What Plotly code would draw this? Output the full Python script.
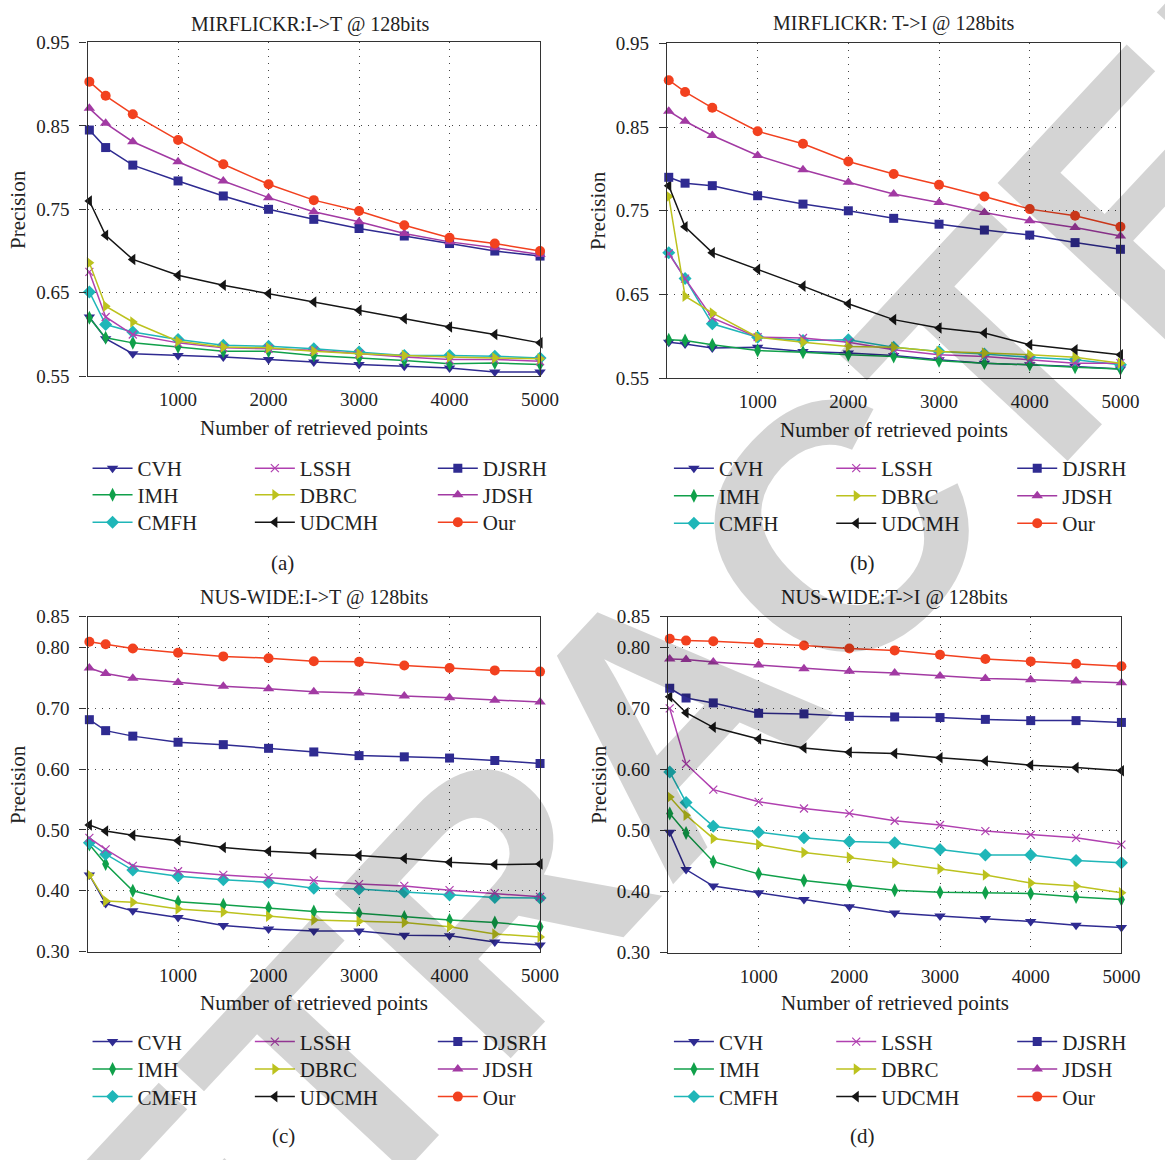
import plotly.graph_objects as go

# ---------------- data ----------------
x_points = [20, 200, 500, 1000, 1500, 2000, 2500, 3000, 3500, 4000, 4500, 5000]
x_ticks = [1000, 2000, 3000, 4000, 5000]
x_tick_labels = ["1000", "2000", "3000", "4000", "5000"]

methods = ["CVH", "IMH", "CMFH", "LSSH", "DBRC", "UDCMH", "DJSRH", "JDSH", "Our"]

# (a) MIRFLICKR: I->T
a_CVH   = [0.621, 0.595, 0.577, 0.575, 0.573, 0.570, 0.567, 0.564, 0.562, 0.560, 0.555, 0.555]
a_IMH   = [0.620, 0.596, 0.590, 0.585, 0.580, 0.580, 0.575, 0.572, 0.569, 0.565, 0.566, 0.564]
a_CMFH  = [0.651, 0.612, 0.603, 0.594, 0.587, 0.586, 0.583, 0.579, 0.575, 0.575, 0.574, 0.572]
a_LSSH  = [0.675, 0.621, 0.600, 0.590, 0.584, 0.583, 0.581, 0.577, 0.573, 0.570, 0.570, 0.568]
a_DBRC  = [0.686, 0.634, 0.615, 0.592, 0.585, 0.584, 0.580, 0.577, 0.575, 0.573, 0.572, 0.571]
a_UDCMH = [0.760, 0.719, 0.690, 0.671, 0.659, 0.649, 0.639, 0.629, 0.619, 0.609, 0.600, 0.590]
a_DJSRH = [0.845, 0.824, 0.803, 0.784, 0.766, 0.750, 0.738, 0.727, 0.718, 0.709, 0.700, 0.694]
a_JDSH  = [0.871, 0.853, 0.831, 0.807, 0.784, 0.764, 0.747, 0.735, 0.721, 0.711, 0.704, 0.696]
a_Our   = [0.903, 0.886, 0.864, 0.833, 0.804, 0.780, 0.761, 0.748, 0.731, 0.716, 0.709, 0.700]

# (b) MIRFLICKR: T->I
b_CVH   = [0.593, 0.591, 0.586, 0.587, 0.582, 0.580, 0.577, 0.572, 0.568, 0.566, 0.564, 0.561]
b_IMH   = [0.596, 0.595, 0.590, 0.583, 0.581, 0.578, 0.576, 0.571, 0.568, 0.566, 0.563, 0.561]
b_CMFH  = [0.700, 0.669, 0.615, 0.599, 0.595, 0.596, 0.587, 0.582, 0.579, 0.575, 0.572, 0.566]
b_LSSH  = [0.699, 0.669, 0.622, 0.599, 0.598, 0.593, 0.584, 0.578, 0.576, 0.572, 0.568, 0.568]
b_DBRC  = [0.767, 0.648, 0.628, 0.599, 0.593, 0.588, 0.587, 0.582, 0.580, 0.578, 0.575, 0.568]
b_UDCMH = [0.780, 0.731, 0.700, 0.680, 0.660, 0.639, 0.620, 0.610, 0.604, 0.590, 0.584, 0.578]
b_DJSRH = [0.790, 0.783, 0.780, 0.768, 0.758, 0.750, 0.741, 0.734, 0.727, 0.721, 0.712, 0.704]
b_JDSH  = [0.869, 0.857, 0.840, 0.816, 0.799, 0.784, 0.770, 0.760, 0.748, 0.738, 0.730, 0.720]
b_Our   = [0.906, 0.892, 0.873, 0.845, 0.830, 0.809, 0.794, 0.781, 0.767, 0.752, 0.744, 0.731]

# (c) NUS-WIDE: I->T
c_CVH   = [0.426, 0.379, 0.367, 0.356, 0.343, 0.337, 0.334, 0.334, 0.327, 0.326, 0.316, 0.311]
c_IMH   = [0.476, 0.444, 0.400, 0.382, 0.377, 0.372, 0.366, 0.363, 0.357, 0.352, 0.348, 0.341]
c_CMFH  = [0.479, 0.460, 0.434, 0.424, 0.418, 0.414, 0.404, 0.403, 0.398, 0.393, 0.389, 0.388]
c_LSSH  = [0.487, 0.468, 0.441, 0.432, 0.426, 0.422, 0.417, 0.411, 0.408, 0.401, 0.396, 0.390]
c_DBRC  = [0.426, 0.383, 0.381, 0.370, 0.365, 0.358, 0.352, 0.350, 0.348, 0.341, 0.329, 0.324]
c_UDCMH = [0.508, 0.498, 0.491, 0.482, 0.471, 0.465, 0.461, 0.458, 0.453, 0.447, 0.443, 0.444]
c_DJSRH = [0.681, 0.663, 0.654, 0.644, 0.640, 0.634, 0.628, 0.622, 0.620, 0.618, 0.614, 0.609]
c_JDSH  = [0.766, 0.757, 0.749, 0.742, 0.736, 0.732, 0.727, 0.725, 0.720, 0.717, 0.713, 0.710]
c_Our   = [0.809, 0.805, 0.798, 0.791, 0.785, 0.782, 0.777, 0.776, 0.770, 0.766, 0.762, 0.760]

# (d) NUS-WIDE: T->I
d_CVH   = [0.497, 0.436, 0.409, 0.398, 0.387, 0.375, 0.365, 0.360, 0.356, 0.351, 0.345, 0.341]
d_IMH   = [0.528, 0.496, 0.449, 0.429, 0.418, 0.410, 0.402, 0.399, 0.398, 0.397, 0.391, 0.387]
d_CMFH  = [0.596, 0.546, 0.507, 0.497, 0.488, 0.482, 0.480, 0.469, 0.460, 0.460, 0.451, 0.447]
d_LSSH  = [0.700, 0.609, 0.567, 0.547, 0.536, 0.528, 0.516, 0.509, 0.499, 0.493, 0.488, 0.477]
d_DBRC  = [0.555, 0.525, 0.487, 0.477, 0.464, 0.456, 0.447, 0.437, 0.427, 0.414, 0.409, 0.398]
d_UDCMH = [0.719, 0.693, 0.669, 0.650, 0.635, 0.628, 0.626, 0.619, 0.614, 0.607, 0.603, 0.598]
d_DJSRH = [0.733, 0.717, 0.709, 0.692, 0.691, 0.687, 0.686, 0.685, 0.682, 0.680, 0.680, 0.677]
d_JDSH  = [0.781, 0.780, 0.776, 0.771, 0.765, 0.761, 0.758, 0.753, 0.749, 0.747, 0.745, 0.742]
d_Our   = [0.814, 0.811, 0.810, 0.807, 0.803, 0.798, 0.795, 0.788, 0.781, 0.777, 0.773, 0.769]

panel_titles = ["MIRFLICKR:I->T @ 128bits", "MIRFLICKR: T->I @ 128bits",
                "NUS-WIDE:I->T @ 128bits", "NUS-WIDE:T->I @ 128bits"]
captions = ["(a)", "(b)", "(c)", "(d)"]
mir_yticks = [0.55, 0.65, 0.75, 0.85, 0.95]
mir_ytick_labels = ["0.55", "0.65", "0.75", "0.85", "0.95"]
nus_yticks = [0.30, 0.40, 0.50, 0.60, 0.70, 0.80, 0.85]
nus_ytick_labels = ["0.30", "0.40", "0.50", "0.60", "0.70", "0.80", "0.85"]
watermark = "RETRACTED"

panel_data = [
    [a_CVH, a_IMH, a_CMFH, a_LSSH, a_DBRC, a_UDCMH, a_DJSRH, a_JDSH, a_Our],
    [b_CVH, b_IMH, b_CMFH, b_LSSH, b_DBRC, b_UDCMH, b_DJSRH, b_JDSH, b_Our],
    [c_CVH, c_IMH, c_CMFH, c_LSSH, c_DBRC, c_UDCMH, c_DJSRH, c_JDSH, c_Our],
    [d_CVH, d_IMH, d_CMFH, d_LSSH, d_DBRC, d_UDCMH, d_DJSRH, d_JDSH, d_Our],
]

# ---------------- style ----------------
W, H = 1165, 1160
FONT = "Liberation Serif, Times New Roman, serif"

colors = {
    "CVH": "#2f2b91", "IMH": "#10a04a", "CMFH": "#1fb6b8", "LSSH": "#b040b0",
    "DBRC": "#bcc21e", "UDCMH": "#151515", "DJSRH": "#2f2b91", "JDSH": "#a23aa3",
    "Our": "#f2411f",
}
symbols = {
    "CVH": "triangle-down", "IMH": "diamond-tall", "CMFH": "diamond",
    "LSSH": "x-thin-open", "DBRC": "triangle-right", "UDCMH": "triangle-left",
    "DJSRH": "square", "JDSH": "triangle-up", "Our": "circle",
}
sizes = {"CVH": 10, "IMH": 10, "CMFH": 10, "LSSH": 8, "DBRC": 10, "UDCMH": 10,
         "DJSRH": 9, "JDSH": 10, "Our": 10}

def px(x):
    return x / W

def py(y):
    return 1 - y / H

# plot areas in pixels: (left, right, top, bottom)
areas = [(89, 549, 33, 373), (678, 1139, 34, 375), (89, 549, 618, 959), (679, 1140, 618, 960)]
legend_cols = [[89, 254, 440], [680, 845, 1029], [89, 254, 440], [680, 845, 1029]]
legend_rows = [[467, 494, 522], [467, 495, 523], [1051, 1079, 1107], [1051, 1079, 1107]]
caption_pos = [(287, 563), (877, 563), (288, 1147), (877, 1147)]
title_pos = [(315, 15), (909, 14), (319, 598), (909, 598)]
xtitle_y = [426, 428, 1011, 1011]

fig = go.Figure()
annotations = []
layout = {}
legend_count = 0

for p in range(4):
    l, r, t, b = areas[p]
    xa = "xaxis" if p == 0 else f"xaxis{p+1}"
    ya = "yaxis" if p == 0 else f"yaxis{p+1}"
    xr = "x" if p == 0 else f"x{p+1}"
    yr = "y" if p == 0 else f"y{p+1}"
    mir = p < 2
    layout[xa] = dict(
        domain=[px(l), px(r)], anchor=yr, range=[0, 5000],
        tickvals=x_ticks, ticktext=x_tick_labels,
        showline=True, linecolor="#333333", linewidth=1.3, mirror=True,
        showgrid=True, gridcolor="#444444", gridwidth=1, griddash="1px,6px",
        zeroline=False, ticks="", ticklabelstandoff=6,
        tickfont=dict(family=FONT, size=19, color="#222222"),
    )
    layout[ya] = dict(
        domain=[py(b), py(t)], anchor=xr,
        range=[0.55, 0.95] if mir else [0.30, 0.85],
        tickvals=mir_yticks if mir else nus_yticks,
        ticktext=mir_ytick_labels if mir else nus_ytick_labels,
        showline=True, linecolor="#333333", linewidth=1.3, mirror=True,
        showgrid=True, gridcolor="#444444", gridwidth=1, griddash="1px,6px",
        zeroline=False, ticks="outside", ticklen=7, tickcolor="#333333",
        ticklabelstandoff=6,
        tickfont=dict(family=FONT, size=19, color="#222222"),
    )
    for k, m in enumerate(methods):
        col, row = k // 3, k % 3
        legend_count += 1
        lid = "legend" if legend_count == 1 else f"legend{legend_count}"
        fig.add_trace(go.Scatter(
            x=x_points, y=panel_data[p][k], name=m, mode="lines+markers",
            xaxis=xr, yaxis=yr, legend=lid, showlegend=True,
            line=dict(color=colors[m], width=1.5),
            marker=dict(symbol=symbols[m], size=sizes[m], color=colors[m],
                        line=dict(color=colors[m], width=1.2 if m == "LSSH" else 0)),
            cliponaxis=False,
        ))
        layout[lid] = dict(
            x=px(legend_cols[p][col]), y=py(legend_rows[p][row]),
            xanchor="left", yanchor="middle", orientation="v",
            bgcolor="rgba(0,0,0,0)", borderwidth=0, itemwidth=40,
            font=dict(family=FONT, size=21, color="#222222"),
            itemclick=False, itemdoubleclick=False,
        )
    cx = (l + r) / 2
    annotations.append(dict(x=px(title_pos[p][0]), y=py(title_pos[p][1]), text=panel_titles[p],
                            showarrow=False, xref="paper", yref="paper",
                            xanchor="center", yanchor="middle",
                            font=dict(family=FONT, size=20, color="#222222")))
    annotations.append(dict(x=px(cx), y=py(xtitle_y[p]), text="Number of retrieved points",
                            showarrow=False, xref="paper", yref="paper",
                            xanchor="center", yanchor="middle",
                            font=dict(family=FONT, size=21, color="#222222")))
    annotations.append(dict(x=px(l - 70), y=py((t + b) / 2), text="Precision",
                            showarrow=False, xref="paper", yref="paper", textangle=-90,
                            xanchor="center", yanchor="middle",
                            font=dict(family=FONT, size=21, color="#222222")))
    annotations.append(dict(x=px(caption_pos[p][0]), y=py(caption_pos[p][1]), text=captions[p],
                            showarrow=False, xref="paper", yref="paper",
                            xanchor="center", yanchor="middle",
                            font=dict(family=FONT, size=21, color="#222222")))

# diagonal watermark
annotations.append(dict(x=px(675), y=py(718), text=watermark, showarrow=False,
                        xref="paper", yref="paper", xanchor="center", yanchor="middle",
                        textangle=-47,
                        font=dict(family="Liberation Sans, Arial, sans-serif", size=350,
                                  color="rgba(0,0,0,0.17)", weight="bold")))

fig.update_layout(
    width=W, height=H, margin=dict(l=0, r=0, t=0, b=0), showlegend=True,
    paper_bgcolor="white", plot_bgcolor="white",
    annotations=annotations, **layout,
)

fig.write_html("out.html", config={"displayModeBar": False},
               post_script="document.documentElement.style.margin='0';document.body.style.margin='0';")
